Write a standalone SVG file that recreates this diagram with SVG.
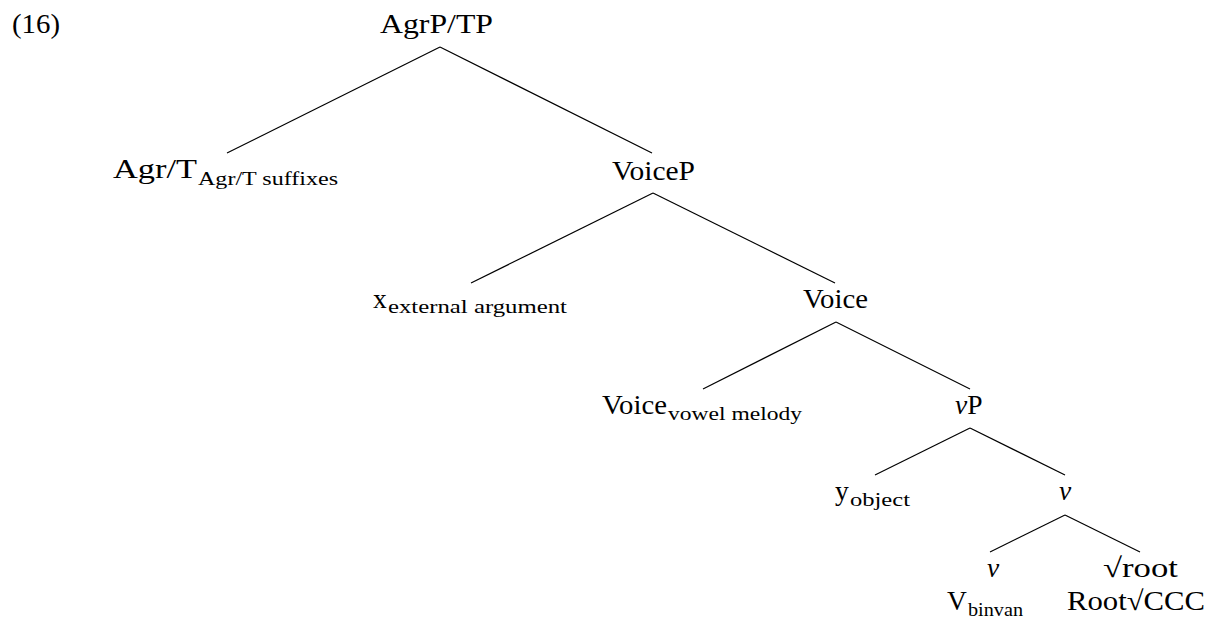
<svg xmlns="http://www.w3.org/2000/svg" width="1218" height="619" viewBox="0 0 1218 619">
<style>
text{font-family:'Liberation Serif','Times New Roman',serif;fill:#000;}
.m{font-size:27.5px;}
.s{font-size:19px;}
.i{font-style:italic;}
.e{stroke:#000;stroke-width:1.2;fill:none;}
</style>
<rect width="1218" height="619" fill="#fff"/>
<text class="m" x="12" y="33" textLength="48" lengthAdjust="spacingAndGlyphs">(16)</text>
<g id="connectors">
<line class="e" x1="440" y1="47" x2="227" y2="153"/>
<line class="e" x1="440" y1="47" x2="652" y2="153"/>
<line class="e" x1="653" y1="193" x2="471" y2="283"/>
<line class="e" x1="653" y1="193" x2="835" y2="283"/>
<line class="e" x1="836" y1="322" x2="703" y2="389"/>
<line class="e" x1="836" y1="322" x2="970" y2="389"/>
<line class="e" x1="970" y1="428" x2="875" y2="475"/>
<line class="e" x1="970" y1="428" x2="1065" y2="475"/>
<line class="e" x1="1065" y1="515" x2="990" y2="552"/>
<line class="e" x1="1065" y1="515" x2="1140" y2="552"/>
</g>
<g id="n-agrp">
<text class="m" x="380" y="33" textLength="113" lengthAdjust="spacingAndGlyphs">AgrP/TP</text>
</g>
<g id="n-agr">
<text class="m" x="113" y="178" textLength="84" lengthAdjust="spacingAndGlyphs">Agr/T</text>
<text class="s" x="198" y="185" textLength="140" lengthAdjust="spacingAndGlyphs">Agr/T suffixes</text>
</g>
<g id="n-voicep">
<text class="m" x="612" y="180" textLength="83" lengthAdjust="spacingAndGlyphs">VoiceP</text>
</g>
<g id="n-x">
<text class="m" x="373" y="308">x</text>
<text class="s" x="388" y="313" textLength="179" lengthAdjust="spacingAndGlyphs">external argument</text>
</g>
<g id="n-voice">
<text class="m" x="803" y="308" textLength="65" lengthAdjust="spacingAndGlyphs">Voice</text>
</g>
<g id="n-voicehead">
<text class="m" x="602" y="414" textLength="65" lengthAdjust="spacingAndGlyphs">Voice</text>
<text class="s" x="668" y="420" textLength="134" lengthAdjust="spacingAndGlyphs">vowel melody</text>
</g>
<g id="n-vp">
<text class="m" x="955" y="414"><tspan class="i">v</tspan>P</text>
</g>
<g id="n-y">
<text class="m" x="835" y="500">y</text>
<text class="s" x="850" y="506" textLength="60" lengthAdjust="spacingAndGlyphs">object</text>
</g>
<g id="n-vbar">
<text class="m i" x="1065" y="500" text-anchor="middle">v</text>
</g>
<g id="n-v">
<text class="m i" x="993" y="577" text-anchor="middle">v</text>
<text class="m" x="947" y="610">V</text>
<text class="s" x="968" y="616" textLength="55" lengthAdjust="spacingAndGlyphs">binvan</text>
</g>
<g id="n-root">
<text class="m" x="1103" y="577" textLength="75" lengthAdjust="spacingAndGlyphs">√root</text>
<text class="m" x="1067" y="610" textLength="138" lengthAdjust="spacingAndGlyphs">Root√CCC</text>
</g>
</svg>
